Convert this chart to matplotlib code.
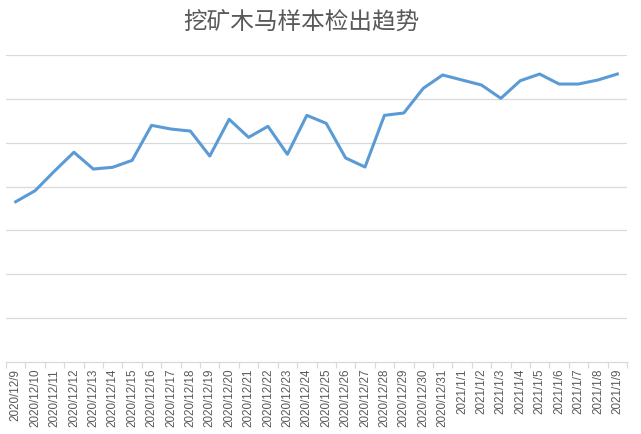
import matplotlib
matplotlib.use("Agg")
import matplotlib.pyplot as plt
import numpy as np

plt.rcParams['font.family'] = ['Noto Sans CJK SC', 'DejaVu Sans']

dates = ["2020/12/9", "2020/12/10", "2020/12/11", "2020/12/12", "2020/12/13", "2020/12/14",
         "2020/12/15", "2020/12/16", "2020/12/17", "2020/12/18", "2020/12/19", "2020/12/20",
         "2020/12/21", "2020/12/22", "2020/12/23", "2020/12/24", "2020/12/25", "2020/12/26",
         "2020/12/27", "2020/12/28", "2020/12/29", "2020/12/30", "2020/12/31", "2021/1/1",
         "2021/1/2", "2021/1/3", "2021/1/4", "2021/1/5", "2021/1/6", "2021/1/7", "2021/1/8",
         "2021/1/9"]
counts = [1827, 1953, 2177, 2391, 2200, 2220, 2299, 2698, 2656, 2633, 2348, 2767,
          2561, 2687, 2368, 2812, 2721, 2326, 2223, 2812, 2839, 3120, 3272, 3215,
          3158, 3006, 3207, 3283, 3169, 3169, 3215, 3283]
title = "挖矿木马样本检出趋势"

fig = plt.figure(figsize=(6.41, 4.34), dpi=100)
ax = fig.add_axes([6/641, 1-362/434, 621/641, (362-55)/434])

x = np.arange(len(dates))
ax.plot(x, counts, color="#5B9BD5", linewidth=2.2, solid_joinstyle="round", zorder=3)

ax.set_xlim(-0.5, len(dates) - 0.5)
ax.set_ylim(0, 3500)
ax.set_yticks(np.arange(500, 3501, 500))
ax.yaxis.grid(True, color="#d9d9d9", linewidth=0.9)
ax.tick_params(axis='y', left=False, labelleft=False)

ax.set_xticks(x)
ax.set_xticklabels(dates, rotation=90, fontsize=8.4, color="#595959",
                   family=['Liberation Sans', 'DejaVu Sans'])
ax.tick_params(axis='x', which='major', length=0, pad=5)
ax.set_xticks(np.arange(-0.5, len(dates)), minor=True)
ax.tick_params(axis='x', which='minor', length=4, color="#d9d9d9", width=0.9)

for s in ['top', 'right', 'left']:
    ax.spines[s].set_visible(False)
ax.spines['bottom'].set_color("#d9d9d9")
ax.spines['bottom'].set_linewidth(0.9)

fig.text(301/641, 1-22/434, title, ha='center', va='center', fontsize=17, color="#595959")

fig.savefig("out.png", dpi=100)
